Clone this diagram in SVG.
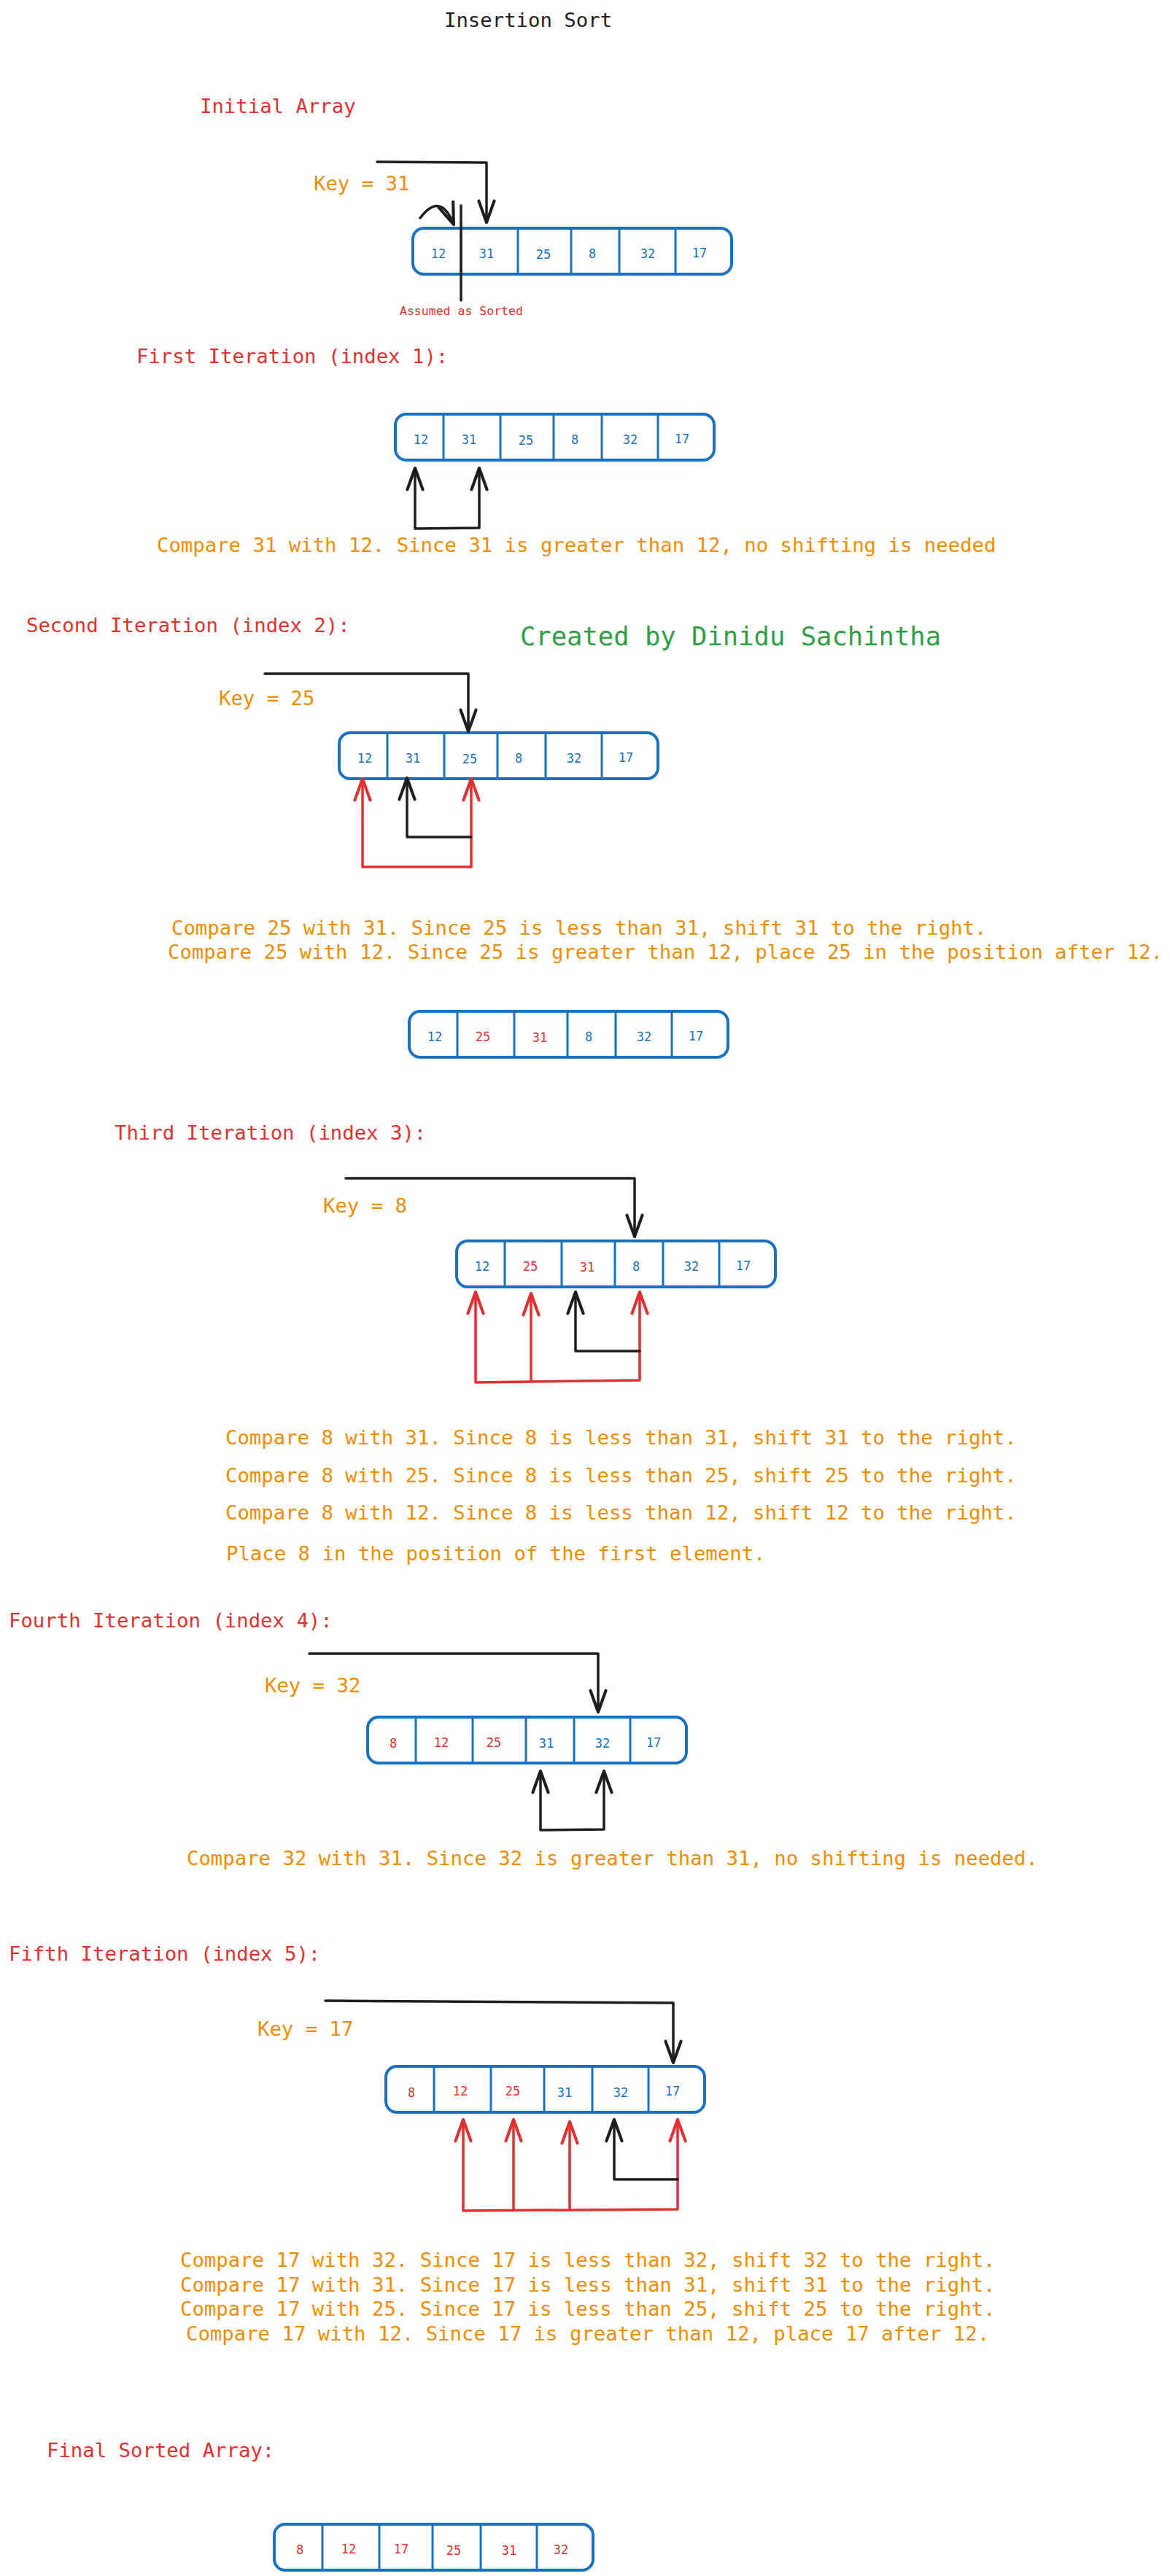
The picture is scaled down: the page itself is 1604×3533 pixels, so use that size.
<svg xmlns="http://www.w3.org/2000/svg" width="1604" height="3533" viewBox="0 0 1604 3533">
<style>
.t{font-family:"DejaVu Sans Mono","Liberation Mono",monospace;font-size:27.3px}
.big{font-family:"DejaVu Sans Mono","Liberation Mono",monospace;font-size:35.5px;fill:#2f9e44}
.sm{font-family:"DejaVu Sans Mono","Liberation Mono",monospace;font-size:16.5px;fill:#e03131}
.v{font-family:"DejaVu Sans Mono","Liberation Mono",monospace;font-size:17px;text-anchor:middle}
.k{fill:#1e1e1e}.r{fill:#e03131}.o{fill:#f08c00}.b{fill:#1971c2}
.box{fill:#fff;stroke:#1971c2;stroke-width:4}
.div{stroke:#1971c2;stroke-width:3}
.cb{fill:none;stroke:#1e1e1e;stroke-width:3.5;stroke-linejoin:round;stroke-linecap:round}
.cr{fill:none;stroke:#e03131;stroke-width:3.5;stroke-linejoin:round;stroke-linecap:round}
</style>
<defs>
<marker id="ab" markerUnits="userSpaceOnUse" markerWidth="40" markerHeight="40" viewBox="-30 -15 34 30" refX="0" refY="0" orient="auto-start-reverse">
<path d="M-25,-9 L0,0 L-25,9" fill="none" stroke="#1e1e1e" stroke-width="3.5" stroke-linecap="round" stroke-linejoin="round"/>
</marker>
<marker id="ar" markerUnits="userSpaceOnUse" markerWidth="40" markerHeight="40" viewBox="-30 -15 34 30" refX="0" refY="0" orient="auto-start-reverse">
<path d="M-25,-9 L0,0 L-25,9" fill="none" stroke="#e03131" stroke-width="3.5" stroke-linecap="round" stroke-linejoin="round"/>
</marker>
<g id="arr">
<rect class="box" x="0" y="0" width="437" height="63" rx="15"/>
<line class="div" x1="66" y1="0" x2="66" y2="63"/>
<line class="div" x1="144" y1="0" x2="144" y2="63"/>
<line class="div" x1="217" y1="0" x2="217" y2="63"/>
<line class="div" x1="283" y1="0" x2="283" y2="63"/>
<line class="div" x1="360" y1="0" x2="360" y2="63"/>
</g>
</defs>
<rect width="1604" height="3533" fill="#ffffff"/>

<g id="title"><text class="t k" x="609" y="37">Insertion Sort</text></g>

<g id="initial-label"><text class="t r" x="274" y="155">Initial Array</text></g>
<g id="key31"><text class="t o" x="430" y="261">Key = 31</text></g>
<g id="array-initial">
<use href="#arr" x="566" y="313"/>
<g class="v b"><text x="601" y="354">12</text><text x="667" y="354">31</text><text x="745" y="355">25</text><text x="812" y="354">8</text><text x="888" y="354">32</text><text x="959" y="353">17</text></g>
</g>
<g id="sorted-divider"><line x1="632" y1="282" x2="632" y2="412" stroke="#1e1e1e" stroke-width="3.5" stroke-linecap="round"/></g>
<g id="assumed"><text class="sm" x="548" y="432">Assumed as Sorted</text></g>

<g id="first-label"><text class="t r" x="187" y="498">First Iteration (index 1):</text></g>
<g id="array-first">
<use href="#arr" x="542" y="568"/>
<g class="v b"><text x="577" y="609">12</text><text x="643" y="609">31</text><text x="721" y="610">25</text><text x="788" y="609">8</text><text x="864" y="609">32</text><text x="935" y="608">17</text></g>
</g>
<g id="first-text"><text class="t o" x="215" y="757">Compare 31 with 12. Since 31 is greater than 12, no shifting is needed</text></g>

<g id="second-label"><text class="t r" x="36" y="867">Second Iteration (index 2):</text></g>
<g id="credit"><text class="big" x="713" y="885">Created by Dinidu Sachintha</text></g>
<g id="key25"><text class="t o" x="300" y="967">Key = 25</text></g>
<g id="array-second">
<use href="#arr" x="465" y="1005"/>
<g class="v b"><text x="500" y="1046">12</text><text x="566" y="1046">31</text><text x="644" y="1047">25</text><text x="711" y="1046">8</text><text x="787" y="1046">32</text><text x="858" y="1045">17</text></g>
</g>
<g id="second-text">
<text class="t o" x="235" y="1282">Compare 25 with 31. Since 25 is less than 31, shift 31 to the right.</text>
<text class="t o" x="230" y="1315">Compare 25 with 12. Since 25 is greater than 12, place 25 in the position after 12.</text>
</g>
<g id="array-after-second">
<use href="#arr" x="561" y="1387"/>
<g class="v"><text class="b" x="596" y="1428">12</text><text class="r" x="662" y="1428">25</text><text class="r" x="740" y="1429">31</text><text class="b" x="807" y="1428">8</text><text class="b" x="883" y="1428">32</text><text class="b" x="954" y="1427">17</text></g>
</g>

<g id="third-label"><text class="t r" x="157" y="1563">Third Iteration (index 3):</text></g>
<g id="key8"><text class="t o" x="443" y="1663">Key = 8</text></g>
<g id="array-third">
<use href="#arr" x="626" y="1702"/>
<g class="v"><text class="b" x="661" y="1743">12</text><text class="r" x="727" y="1743">25</text><text class="r" x="805" y="1744">31</text><text class="b" x="872" y="1743">8</text><text class="b" x="948" y="1743">32</text><text class="b" x="1019" y="1742">17</text></g>
</g>
<g id="third-text">
<text class="t o" x="309" y="1981">Compare 8 with 31. Since 8 is less than 31, shift 31 to the right.</text>
<text class="t o" x="309" y="2033">Compare 8 with 25. Since 8 is less than 25, shift 25 to the right.</text>
<text class="t o" x="309" y="2084">Compare 8 with 12. Since 8 is less than 12, shift 12 to the right.</text>
<text class="t o" x="310" y="2140">Place 8 in the position of the first element.</text>
</g>

<g id="fourth-label"><text class="t r" x="12" y="2232">Fourth Iteration (index 4):</text></g>
<g id="key32"><text class="t o" x="363" y="2321">Key = 32</text></g>
<g id="array-fourth">
<use href="#arr" x="504" y="2355"/>
<g class="v"><text class="r" x="539" y="2397">8</text><text class="r" x="605" y="2396">12</text><text class="r" x="677" y="2396">25</text><text class="b" x="749" y="2397">31</text><text class="b" x="826" y="2397">32</text><text class="b" x="896" y="2396">17</text></g>
</g>
<g id="fourth-text"><text class="t o" x="256" y="2558">Compare 32 with 31. Since 32 is greater than 31, no shifting is needed.</text></g>

<g id="fifth-label"><text class="t r" x="12" y="2689">Fifth Iteration (index 5):</text></g>
<g id="key17"><text class="t o" x="353" y="2792">Key = 17</text></g>
<g id="array-fifth">
<use href="#arr" x="529" y="2834"/>
<g class="v"><text class="r" x="564" y="2876">8</text><text class="r" x="631" y="2874">12</text><text class="r" x="703" y="2874">25</text><text class="b" x="774" y="2876">31</text><text class="b" x="851" y="2876">32</text><text class="b" x="922" y="2874">17</text></g>
</g>
<g id="fifth-text">
<text class="t o" x="247" y="3109">Compare 17 with 32. Since 17 is less than 32, shift 32 to the right.</text>
<text class="t o" x="247" y="3143">Compare 17 with 31. Since 17 is less than 31, shift 31 to the right.</text>
<text class="t o" x="247" y="3176">Compare 17 with 25. Since 17 is less than 25, shift 25 to the right.</text>
<text class="t o" x="255" y="3210">Compare 17 with 12. Since 17 is greater than 12, place 17 after 12.</text>
</g>

<g id="final-label"><text class="t r" x="64" y="3370">Final Sorted Array:</text></g>
<g id="array-final">
<use href="#arr" x="376" y="3462"/>
<g class="v r"><text x="411" y="3503">8</text><text x="478" y="3502">12</text><text x="550" y="3502">17</text><text x="622" y="3504">25</text><text x="698" y="3504">31</text><text x="769" y="3503">32</text></g>
</g>

<g id="connectors">
<path class="cb" d="M517,222 L667,223 L667,305" marker-end="url(#ab)"/>
<path class="cb" d="M576,299 Q604,262 622,308" marker-end="url(#ab)"/>
<path class="cb" d="M569,642 L569,725 L657,724 L657,642" marker-start="url(#ab)" marker-end="url(#ab)"/>
<path class="cb" d="M363,924 L642,924 L642,1003" marker-end="url(#ab)"/>
<path class="cr" d="M497,1068 L497,1189 L646,1189 L646,1068" marker-start="url(#ar)" marker-end="url(#ar)"/>
<path class="cb" d="M646,1148 L558,1148 L558,1067" marker-end="url(#ab)"/>
<path class="cb" d="M474,1616 L870,1616 L870,1696" marker-end="url(#ab)"/>
<path class="cr" d="M652,1772 L652,1896 L877,1893 L877,1772" marker-start="url(#ar)" marker-end="url(#ar)"/>
<path class="cr" d="M728,1895 L728,1774" marker-end="url(#ar)"/>
<path class="cb" d="M877,1853 L789,1853 L789,1772" marker-end="url(#ab)"/>
<path class="cb" d="M424,2268 L820,2268 L820,2348" marker-end="url(#ab)"/>
<path class="cb" d="M741,2429 L741,2510 L828,2509 L828,2429" marker-start="url(#ab)" marker-end="url(#ab)"/>
<path class="cb" d="M446,2744 L923,2747 L923,2829" marker-end="url(#ab)"/>
<path class="cr" d="M635,2907 L635,3032 L929,3030 L929,2907" marker-start="url(#ar)" marker-end="url(#ar)"/>
<path class="cr" d="M704,3031 L704,2907" marker-end="url(#ar)"/>
<path class="cr" d="M781,3031 L781,2910" marker-end="url(#ar)"/>
<path class="cb" d="M929,2989 L842,2989 L842,2907" marker-end="url(#ab)"/>
</g>
</svg>
